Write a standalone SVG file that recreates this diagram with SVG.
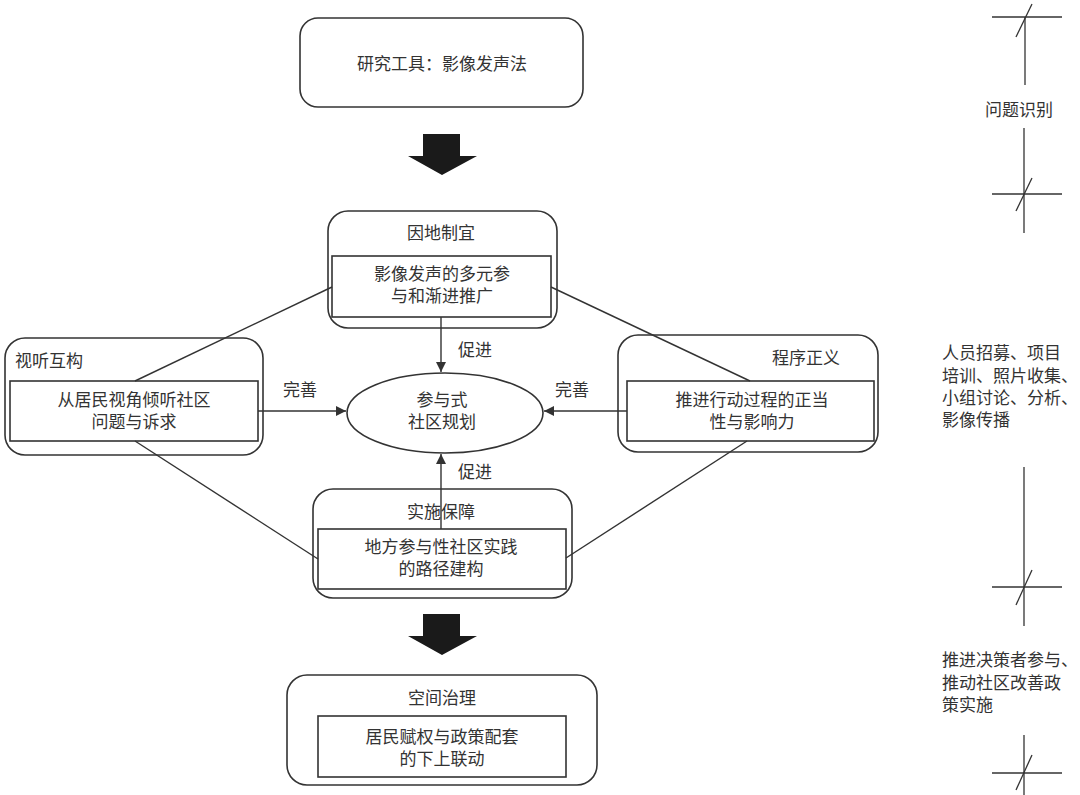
<svg xmlns="http://www.w3.org/2000/svg" width="1080" height="795" viewBox="0 0 1080 795">
<defs>
<style>
.t{font-family:"Liberation Sans","Noto Sans CJK SC",sans-serif;font-size:17px;fill:#333;}
.m{text-anchor:middle;}
.box{fill:none;stroke:#333;stroke-width:1.6;}
.ln{fill:none;stroke:#333;stroke-width:1.4;}
.tl{fill:none;stroke:#333;stroke-width:1.3;}
</style>
<marker id="ah" viewBox="0 0 10 10" refX="10" refY="5" markerWidth="10" markerHeight="10" markerUnits="userSpaceOnUse" orient="auto">
<path d="M0,0 L10,5 L0,10 z" fill="#333"/>
</marker>
</defs>
<rect width="1080" height="795" fill="#fff"/>

<g id="tool">
<rect class="box" x="300" y="18" width="283" height="89" rx="18"/>
<text class="t m" x="442" y="70">研究工具：影像发声法</text>
</g>

<g id="yindi">
<rect class="box" x="328" y="211" width="229" height="117" rx="20"/>
<text class="t m" x="441" y="239">因地制宜</text>
<rect class="box" x="332" y="256" width="219" height="61"/>
<text class="t m" x="442" y="280">影像发声的多元参</text>
<text class="t m" x="442" y="302">与和渐进推广</text>
</g>

<g id="shiting">
<rect class="box" x="5" y="338" width="258" height="117" rx="20"/>
<text class="t" x="15" y="367">视听互构</text>
<rect class="box" x="10" y="381" width="248" height="60"/>
<text class="t m" x="134" y="406">从居民视角倾听社区</text>
<text class="t m" x="134" y="428">问题与诉求</text>
</g>

<g id="chengxu">
<rect class="box" x="618" y="335" width="260" height="117" rx="20"/>
<text class="t" x="840" y="364" text-anchor="end">程序正义</text>
<rect class="box" x="627" y="381" width="247" height="60"/>
<text class="t m" x="752" y="406">推进行动过程的正当</text>
<text class="t m" x="752" y="428">性与影响力</text>
</g>

<g id="center">
<ellipse class="box" cx="445" cy="413" rx="98" ry="40"/>
<text class="t m" x="442" y="406">参与式</text>
<text class="t m" x="442" y="428">社区规划</text>
</g>

<g id="shishi">
<rect class="box" x="313" y="489" width="259" height="109" rx="20"/>
<text class="t m" x="441" y="518">实施保障</text>
<rect class="box" x="318" y="529" width="248" height="60"/>
<text class="t m" x="441" y="553">地方参与性社区实践</text>
<text class="t m" x="441" y="575">的路径建构</text>
</g>

<g id="kongjian">
<rect class="box" x="287" y="675" width="310" height="110" rx="20"/>
<text class="t m" x="442" y="704">空间治理</text>
<rect class="box" x="318" y="716" width="248" height="61"/>
<text class="t m" x="442" y="743">居民赋权与政策配套</text>
<text class="t m" x="442" y="765">的下上联动</text>
</g>

<g id="connectors">
<line class="ln" x1="135" y1="381" x2="332" y2="287"/>
<line class="ln" x1="750" y1="381" x2="551" y2="287"/>
<line class="ln" x1="135" y1="441" x2="318" y2="559"/>
<line class="ln" x1="747" y1="441" x2="566" y2="558"/>
<line class="ln" x1="441" y1="317" x2="441" y2="372" marker-end="url(#ah)"/>
<line class="ln" x1="441" y1="529" x2="441" y2="454" marker-end="url(#ah)"/>
<line class="ln" x1="258" y1="411" x2="346" y2="411" marker-end="url(#ah)"/>
<line class="ln" x1="627" y1="411" x2="544" y2="411" marker-end="url(#ah)"/>
<text class="t" x="458" y="356">促进</text>
<text class="t" x="458" y="478">促进</text>
<text class="t m" x="300" y="396">完善</text>
<text class="t m" x="572" y="396">完善</text>
<polygon points="423,134 460,134 460,156 477,156 442,175 408,156 423,156" fill="#1a1a1a"/>
<polygon points="423,614 460,614 460,636 477,636 442,655 408,636 423,636" fill="#1a1a1a"/>
</g>

<g id="timeline">
<line class="tl" x1="1025" y1="17" x2="1025" y2="85"/>
<line class="tl" x1="992" y1="17" x2="1062" y2="17"/>
<line class="tl" x1="1016" y1="37" x2="1032" y2="4"/>
<text class="t m" x="1019" y="116">问题识别</text>
<line class="tl" x1="1024" y1="128" x2="1024" y2="233"/>
<line class="tl" x1="992" y1="194" x2="1062" y2="194"/>
<line class="tl" x1="1016" y1="211" x2="1032" y2="178"/>
<text class="t" x="942" y="359">人员招募、项目</text>
<text class="t" x="942" y="382">培训、照片收集、</text>
<text class="t" x="942" y="404">小组讨论、分析、</text>
<text class="t" x="942" y="426">影像传播</text>
<line class="tl" x1="1024" y1="467" x2="1024" y2="626"/>
<line class="tl" x1="992" y1="587" x2="1062" y2="587"/>
<line class="tl" x1="1016" y1="605" x2="1032" y2="570"/>
<text class="t" x="942" y="666">推进决策者参与、</text>
<text class="t" x="942" y="689">推动社区改善政</text>
<text class="t" x="942" y="711">策实施</text>
<line class="tl" x1="1024" y1="735" x2="1024" y2="795"/>
<line class="tl" x1="992" y1="773" x2="1062" y2="773"/>
<line class="tl" x1="1016" y1="790" x2="1032" y2="755"/>
</g>
</svg>
